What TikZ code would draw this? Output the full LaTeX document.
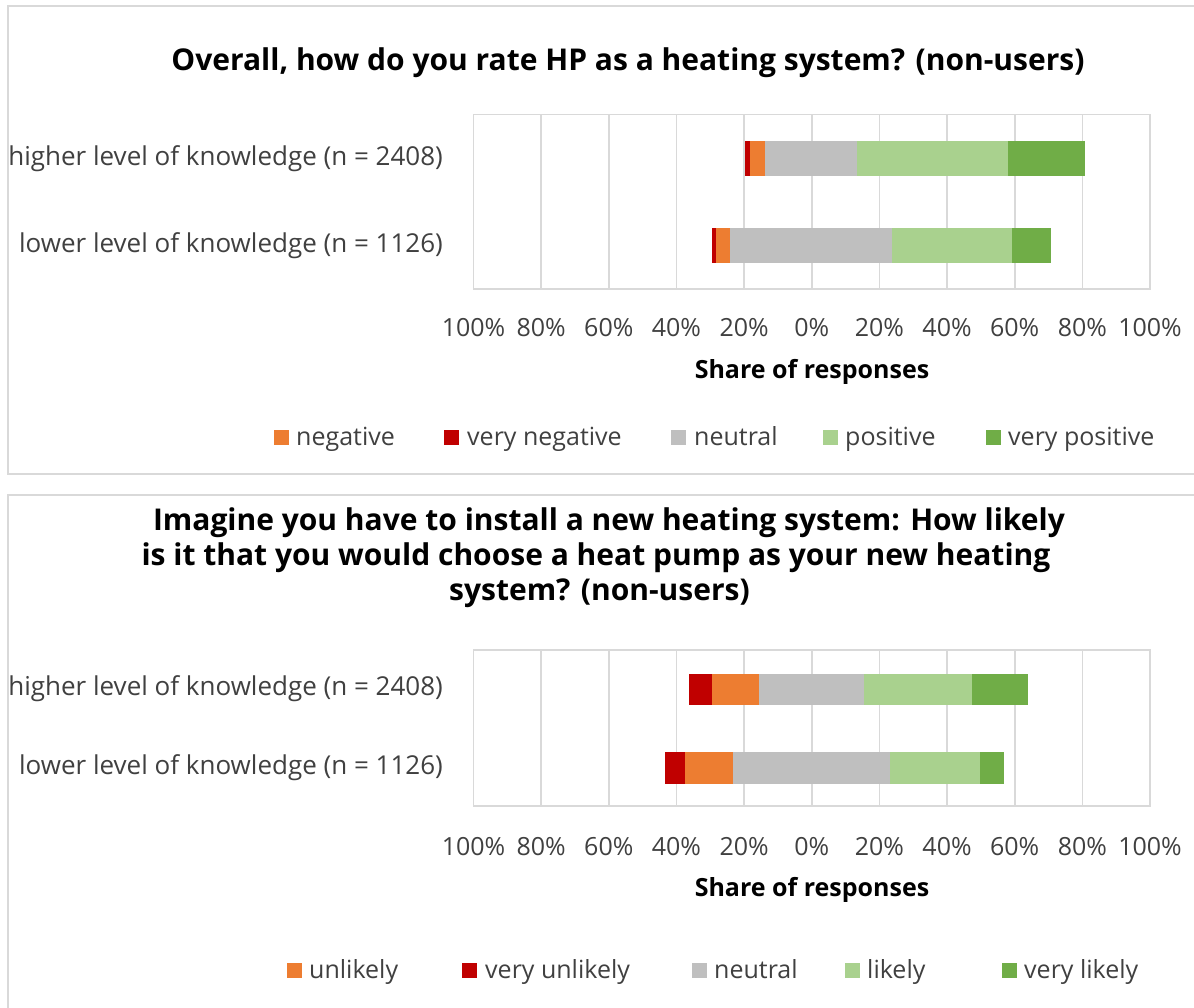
\documentclass[tikz,border=0pt]{standalone}
\usepackage{fontspec}
\setmainfont{Open Sans}
\definecolor{cneg}{HTML}{ED7D31}
\definecolor{cvneg}{HTML}{C00000}
\definecolor{cneu}{HTML}{BFBFBF}
\definecolor{cpos}{HTML}{A9D18E}
\definecolor{cvpos}{HTML}{70AD47}
\definecolor{cgrid}{HTML}{D9D9D9}
\definecolor{ctext}{HTML}{404040}
\newcommand{\pctx}[1]{811.75+3.3825*(#1)}
\newcommand{\seg}[5]{\fill[#1] ({\pctx{#2}},#4) rectangle ({\pctx{#3}},#5);}
\begin{document}
\begin{tikzpicture}[x=1pt,y=-1pt,
  panel/.style={draw=cgrid,line width=2pt},
  grid/.style={draw=cgrid,line width=1.6pt},
  cat/.style={anchor=east,inner sep=0pt,text=ctext,font=\fontsize{26}{31}\selectfont},
  tick/.style={anchor=base,inner sep=0pt,text=ctext,font=\fontsize{25}{30}\selectfont},
  legtext/.style={anchor=base west,inner sep=0pt,text=ctext,font=\fontsize{25}{30}\selectfont},
  legbox/.style={minimum size=15pt,inner sep=0pt,anchor=west},
  title/.style={anchor=center,inner sep=0pt,text=black,font=\bfseries\fontsize{30}{36}\selectfont},
  axtitle/.style={anchor=center,inner sep=0pt,text=black,font=\bfseries\fontsize{25}{30}\selectfont}
]
\useasboundingbox (0,0) rectangle (1194,1008);
\fill[white] (0,0) rectangle (1194,1008);
% panels
\draw[panel] (1200,6) -- (8,6) -- (8,474) -- (1200,474);
\draw[panel] (1200,495) -- (8,495) -- (8,1015);

% ===== top chart =====
\node[title] (t1) at (628,63) {Overall, how do you rate HP as a heating system? (non-users)};
\foreach \p in {-100,-80,...,100} {
  \draw[grid] ({\pctx{\p}},114.7) -- ({\pctx{\p}},289);
}
\draw[grid] ({\pctx{-100}},114.7) rectangle ({\pctx{100}},289);
% row 1 higher
\seg{cvneg}{-19.6}{-18.4}{141.5}{176}
\seg{cneg}{-18.4}{-13.8}{141.5}{176}
\seg{cneu}{-13.8}{13.3}{141.5}{176}
\seg{cpos}{13.3}{57.9}{141.5}{176}
\seg{cvpos}{57.9}{80.7}{141.5}{176}
% row 2 lower
\seg{cvneg}{-29.4}{-28.2}{228.5}{263.5}
\seg{cneg}{-28.2}{-24.1}{228.5}{263.5}
\seg{cneu}{-24.1}{23.8}{228.5}{263.5}
\seg{cpos}{23.8}{59.1}{228.5}{263.5}
\seg{cvpos}{59.1}{70.8}{228.5}{263.5}
\node[cat] (c1a) at (443,158.5) {higher level of knowledge (n = 2408)};
\node[cat] (c1b) at (443,245.5) {lower level of knowledge (n = 1126)};
\foreach \p/\l [count=\i] in {-100/100,-80/80,-60/60,-40/40,-20/20,0/0,20/20,40/40,60/60,80/80,100/100} {
  \node[tick] (ta\i) at ({\pctx{\p}},336) {\l\%};
}
\node[axtitle] (ax1) at (812,372) {Share of responses};
% legend top
\node[legbox,fill=cneg] (la1) at (274,437) {};
\node[legtext] (lt1) at (296,445) {negative};
\node[legbox,fill=cvneg] (la2) at (444,437) {};
\node[legtext] (lt2) at (467,445) {very negative};
\node[legbox,fill=cneu] (la3) at (671,437) {};
\node[legtext] (lt3) at (694,445) {neutral};
\node[legbox,fill=cpos] (la4) at (823,437) {};
\node[legtext] (lt4) at (845,445) {positive};
\node[legbox,fill=cvpos] (la5) at (986,437) {};
\node[legtext] (lt5) at (1008,445) {very positive};

% ===== bottom chart =====
\node[title] (t2a) at (609,523) {Imagine you have to install a new heating system: How likely};
\node[title] (t2b) at (596,558) {is it that you would choose a heat pump as your new heating};
\node[title,anchor=east] (t2c) at (750,593) {system? (non-users)};
\foreach \p in {-100,-80,...,100} {
  \draw[grid] ({\pctx{\p}},650) -- ({\pctx{\p}},806);
}
\draw[grid] ({\pctx{-100}},650) rectangle ({\pctx{100}},806);
% row 1 higher
\seg{cvneg}{-36.2}{-29.6}{673.5}{704.5}
\seg{cneg}{-29.6}{-15.7}{673.5}{704.5}
\seg{cneu}{-15.7}{15.3}{673.5}{704.5}
\seg{cpos}{15.3}{47.4}{673.5}{704.5}
\seg{cvpos}{47.4}{64.0}{673.5}{704.5}
% row 2 lower
\seg{cvneg}{-43.5}{-37.4}{752}{784}
\seg{cneg}{-37.4}{-23.3}{752}{784}
\seg{cneu}{-23.3}{23.0}{752}{784}
\seg{cpos}{23.0}{49.6}{752}{784}
\seg{cvpos}{49.6}{56.7}{752}{784}
\node[cat] (c2a) at (443,689) {higher level of knowledge (n = 2408)};
\node[cat] (c2b) at (443,768) {lower level of knowledge (n = 1126)};
\foreach \p/\l [count=\i] in {-100/100,-80/80,-60/60,-40/40,-20/20,0/0,20/20,40/40,60/60,80/80,100/100} {
  \node[tick] (tb\i) at ({\pctx{\p}},855) {\l\%};
}
\node[axtitle] (ax2) at (812,890) {Share of responses};
% legend bottom
\node[legbox,fill=cneg] (lb1) at (287,970) {};
\node[legtext] (ls1) at (309,978) {unlikely};
\node[legbox,fill=cvneg] (lb2) at (462,970) {};
\node[legtext] (ls2) at (485,978) {very unlikely};
\node[legbox,fill=cneu] (lb3) at (692,970) {};
\node[legtext] (ls3) at (714,978) {neutral};
\node[legbox,fill=cpos] (lb4) at (845,970) {};
\node[legtext] (ls4) at (867,978) {likely};
\node[legbox,fill=cvpos] (lb5) at (1002,970) {};
\node[legtext] (ls5) at (1024,978) {very likely};
\end{tikzpicture}
\end{document}
